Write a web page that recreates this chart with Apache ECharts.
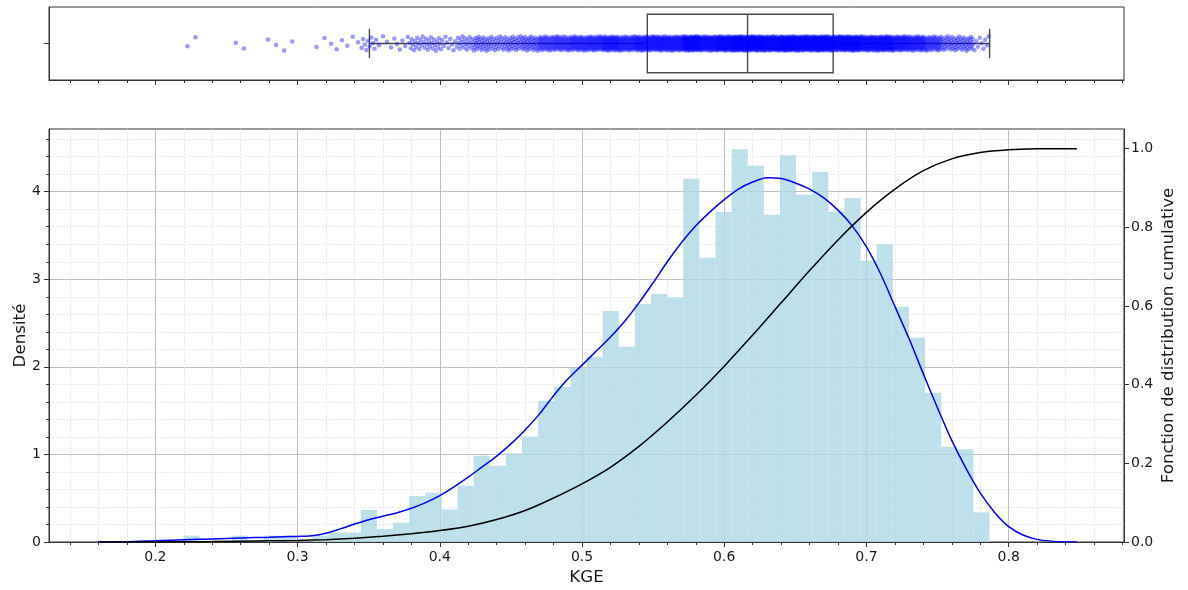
<!DOCTYPE html>
<html><head><meta charset="utf-8">
<script src="https://cdn.jsdelivr.net/npm/echarts@6/dist/echarts.min.js"></script>
<style>html,body{margin:0;padding:0;background:#fff}#c{width:1188px;height:590px}</style>
</head><body><div id="c"></div>
<script>
// ---------- data ----------
const xMin = 0.1252, xMax = 0.8811;                 // x-axis view limits
const xTicks = [0.2, 0.3, 0.4, 0.5, 0.6, 0.7, 0.8];
const densTicks = [0, 1, 2, 3, 4];
const cdfTicks = [0, 0.2, 0.4, 0.6, 0.8, 1.0];
const densMax = 4.716, cdfMax = 1.05;

const kgeMin = 0.2197, kgeMax = 0.7866;              // data range (histogram range)
const binCount = 50;
const sampleSize = 2441;                             // estimated number of KGE values
const histDensity = [
  0.072, 0, 0, 0.072, 0, 0.072, 0.072, 0, 0.072, 0.108,
  0.108, 0.366, 0.15, 0.22, 0.525, 0.564, 0.373, 0.643, 0.986, 0.872,
  1.012, 1.203, 1.614, 1.774, 1.99, 2.116, 2.637, 2.23, 2.717, 2.831,
  2.793, 4.148, 3.246, 3.771, 4.486, 4.297, 3.737, 4.415, 3.966, 4.224,
  3.775, 3.927, 3.211, 3.40, 2.686, 2.333, 1.705, 1.088, 1.058, 0.339
];
// boxplot: lower whisker, Q1, median, Q3, upper whisker
const boxStats = [0.3505, 0.5459, 0.6164, 0.6766, 0.7866];

const kdeX = [0.16,0.17,0.18,0.19,0.20,0.21,0.22,0.23,0.24,0.25,0.26,0.27,0.28,0.29,0.30,
  0.31,0.32,0.33,0.34,0.35,0.36,0.37,0.38,0.39,0.40,0.41,0.42,0.43,0.44,0.45,0.46,0.47,0.48,0.49,0.50,
  0.51,0.52,0.53,0.54,0.55,0.56,0.57,0.58,0.59,0.60,0.61,0.62,0.63,0.64,0.65,0.66,0.67,0.68,0.69,0.70,
  0.71,0.72,0.73,0.74,0.75,0.76,0.77,0.78,0.79,0.80,0.81,0.82,0.83,0.84,0.848];
const kdeY = [0,0.001,0.004,0.008,0.013,0.019,0.025,0.030,0.035,0.040,0.045,0.050,0.055,0.060,0.064,
  0.072,0.10,0.15,0.205,0.255,0.295,0.335,0.385,0.45,0.53,0.63,0.74,0.86,0.98,1.12,1.28,1.46,1.67,1.86,2.02,
  2.18,2.34,2.52,2.73,2.96,3.20,3.42,3.61,3.77,3.91,4.03,4.11,4.16,4.15,4.10,4.03,3.93,3.79,3.61,3.37,
  3.06,2.69,2.32,1.92,1.53,1.16,0.84,0.56,0.34,0.175,0.08,0.03,0.01,0.003,0];

const cdfX = [0.16,0.20,0.24,0.28,0.30,0.32,0.34,0.36,0.38,0.40,0.42,0.44,0.46,0.48,0.50,
  0.52,0.54,0.56,0.58,0.60,0.62,0.64,0.66,0.68,0.70,0.72,0.74,0.76,0.78,0.80,0.82,0.848];
const cdfY = [0,0.0003,0.0012,0.003,0.004,0.006,0.0095,0.0145,0.021,0.029,0.040,0.057,0.080,0.112,0.148,
  0.190,0.243,0.305,0.373,0.447,0.526,0.608,0.690,0.768,0.838,0.897,0.944,0.974,0.990,0.997,0.9995,1.0];

// ---------- derived series ----------
const binW = (kgeMax - kgeMin) / binCount;
const histData = histDensity.map((d, k) => [kgeMin + k * binW, kgeMin + (k + 1) * binW, d]);
// strip points: the individual values cannot be read, so each bin's count is spread across the bin
const stripPoints = [];
let idx = 0;
histDensity.forEach((d, k) => {
  const n = Math.round(d * sampleSize * binW);
  for (let m = 0; m < n; m++) {
    const x = kgeMin + binW * (k + (m + 0.5) / n);
    const j = ((idx * 0.6180339887 + 0.31) % 1) * 2 - 1;
    stripPoints.push([x, j * 0.1]);
    idx++;
  }
});
const kdeData = kdeX.map((x, i) => [x, kdeY[i]]);
const cdfData = cdfX.map((x, i) => [x, cdfY[i]]);

// ---------- chart ----------
const FONT = 'DejaVu Sans';
const AX = '#333';
const tickLabel = {fontFamily: FONT, fontSize: 14, color: '#1a1a1a'};
const nameStyle = {fontFamily: FONT, fontSize: 16.7, color: '#1a1a1a'};
const majorGrid = {show: true, lineStyle: {color: '#b0b0b0', width: 0.8}};
const minorGrid = {show: true, lineStyle: {color: '#e0e0e0', width: 0.8, type: [2, 1.5]}};

const chart = echarts.init(document.getElementById('c'), null, {renderer: 'canvas'});
const option = {
  animation: false,
  backgroundColor: '#fff',
  grid: [
    {left: 49, top: 7, width: 1075, height: 73, show: true, borderColor: AX, borderWidth: 1,
     backgroundColor: 'transparent', containLabel: false, outerBoundsMode: 'none'},
    {left: 49, top: 129, width: 1075, height: 413, show: true, borderColor: AX, borderWidth: 1,
     backgroundColor: 'transparent', containLabel: false, outerBoundsMode: 'none'}
  ],
  xAxis: [
    {type: 'value', gridIndex: 0, min: xMin, max: xMax, splitNumber: 8, minInterval: 0.1, maxInterval: 0.1,
     axisLine: {show: true, onZero: false, lineStyle: {color: AX, width: 1}},
     axisTick: {show: true, length: 5, customValues: xTicks, lineStyle: {color: AX}},
     minorTick: {show: true, splitNumber: 5, length: 3, lineStyle: {color: AX}},
     axisLabel: {show: false}, splitLine: {show: false}},
    {type: 'value', gridIndex: 1, min: xMin, max: xMax, splitNumber: 8, minInterval: 0.1, maxInterval: 0.1,
     axisLine: {show: true, onZero: false, lineStyle: {color: AX, width: 1}},
     axisTick: {show: true, length: 5, customValues: xTicks, lineStyle: {color: AX}},
     minorTick: {show: true, splitNumber: 5, length: 3, lineStyle: {color: AX}},
     axisLabel: Object.assign({show: true, customValues: xTicks, margin: 8, formatter: v => v.toFixed(1)}, tickLabel),
     splitLine: majorGrid, minorSplitLine: minorGrid,
     name: 'KGE', nameLocation: 'middle', nameGap: 27, nameTextStyle: nameStyle}
  ],
  yAxis: [
    {type: 'value', gridIndex: 0, min: -0.5, max: 0.5,
     axisLine: {show: true, onZero: false, lineStyle: {color: AX}},
     axisTick: {show: true, length: 5, customValues: [0], lineStyle: {color: AX}},
     axisLabel: {show: false}, splitLine: {show: false}},
    {type: 'value', gridIndex: 1, min: 0, max: densMax, interval: 1,
     axisLine: {show: true, onZero: false, lineStyle: {color: AX}},
     axisTick: {show: true, length: 5, customValues: densTicks, lineStyle: {color: AX}},
     minorTick: {show: true, splitNumber: 5, length: 3, lineStyle: {color: AX}},
     axisLabel: Object.assign({show: true, customValues: densTicks, margin: 8}, tickLabel),
     splitLine: majorGrid, minorSplitLine: minorGrid,
     name: 'Densité', nameLocation: 'middle', nameRotate: 90, nameGap: 20, nameMoveOverlap: false,
     nameTextStyle: nameStyle},
    {type: 'value', gridIndex: 1, position: 'right', min: 0, max: cdfMax, interval: 0.2,
     axisLine: {show: true, onZero: false, lineStyle: {color: AX}},
     axisTick: {show: true, length: 5, customValues: cdfTicks, lineStyle: {color: AX}},
     axisLabel: Object.assign({show: true, customValues: cdfTicks, margin: 7, formatter: v => v.toFixed(1)}, tickLabel),
     splitLine: {show: false},
     name: 'Fonction de distribution cumulative', nameLocation: 'middle', nameRotate: 90, nameGap: 36,
     nameMoveOverlap: false, nameTextStyle: nameStyle}
  ],
  series: [
    {type: 'custom', xAxisIndex: 0, yAxisIndex: 0, data: [boxStats], z: 2, silent: true,
     renderItem: (params, api) => {
       const lo = api.value(0), q1 = api.value(1), md = api.value(2), q3 = api.value(3), hi = api.value(4);
       const pt = (x, y) => api.coord([x, y]);
       const st = {stroke: '#4a4a4a', lineWidth: 1.4, fill: null};
       const line = (a, b) => ({type: 'line', shape: {x1: a[0], y1: a[1], x2: b[0], y2: b[1]}, style: st});
       const a = pt(q1, 0.4), b = pt(q3, -0.4);
       return {type: 'group', children: [
         {type: 'rect', shape: {x: a[0], y: a[1], width: b[0] - a[0], height: b[1] - a[1]}, style: st},
         line(pt(md, 0.4), pt(md, -0.4)),
         line(pt(lo, 0), pt(q1, 0)),
         line(pt(q3, 0), pt(hi, 0)),
         line(pt(lo, 0.2), pt(lo, -0.2)),
         line(pt(hi, 0.2), pt(hi, -0.2))
       ]};
     }},
    {type: 'scatter', xAxisIndex: 0, yAxisIndex: 0, data: stripPoints, symbol: 'circle', symbolSize: 4.5,
     large: false, progressive: 0, z: 3, silent: true,
     itemStyle: {color: 'rgba(0,0,255,0.5)', borderWidth: 0}},
    {type: 'custom', xAxisIndex: 1, yAxisIndex: 1, data: histData, z: 2, silent: true,
     encode: {x: [0, 1], y: 2},
     renderItem: (params, api) => {
       const h = api.value(2);
       if (!h) return null;
       const p0 = api.coord([api.value(0), h]);
       const p1 = api.coord([api.value(1), 0]);
       return {type: 'rect', shape: {x: p0[0], y: p0[1], width: p1[0] - p0[0], height: p1[1] - p0[1]},
               style: {fill: 'rgba(173,216,230,0.8)', stroke: null}};
     }},
    {type: 'line', xAxisIndex: 1, yAxisIndex: 1, data: kdeData, showSymbol: false, smooth: 0.3, z: 4, silent: true,
     lineStyle: {color: '#0000ff', width: 1.5}},
    {type: 'line', xAxisIndex: 1, yAxisIndex: 2, data: cdfData, showSymbol: false, smooth: 0.3, z: 4, silent: true,
     lineStyle: {color: '#000000', width: 1.5}}
  ]
};
chart.setOption(option);
</script>
</body></html>
